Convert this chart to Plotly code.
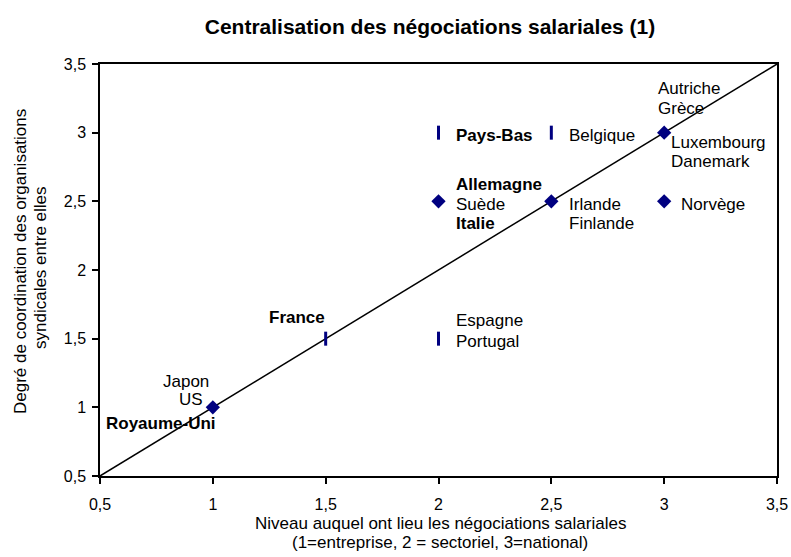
import plotly.graph_objects as go

# données : niveau de négociation (x) et coordination (y)
pays = ["Japon", "US", "Royaume-Uni", "France", "Espagne", "Portugal",
        "Pays-Bas", "Belgique", "Allemagne", "Suède", "Italie",
        "Irlande", "Finlande", "Norvège", "Autriche", "Grèce",
        "Luxembourg", "Danemark"]
niveau = [1, 1, 1, 1.5, 2, 2, 2, 2.5, 2, 2, 2, 2.5, 2.5, 3, 3, 3, 3, 3]
coordination = [1, 1, 1, 1.5, 1.5, 1.5, 3, 3, 2.5, 2.5, 2.5, 2.5, 2.5, 2.5, 3, 3, 3, 3]
gras = {"Royaume-Uni", "France", "Pays-Bas", "Allemagne", "Italie"}
barre = {"France", "Espagne", "Portugal", "Pays-Bas", "Belgique"}

axe = [0.5, 3.5]

# décalage des étiquettes (pixels) : xshift, yshift, ancrage
decal = {
    "Japon": (-27, 26, "center"), "US": (-22, 8, "center"),
    "Royaume-Uni": (-52, -16, "center"), "France": (-29, 21, "center"),
    "Espagne": (15, 18, "left"), "Portugal": (15, -3, "left"),
    "Pays-Bas": (15, -3, "left"), "Belgique": (16, -3, "left"),
    "Allemagne": (15, 17, "left"), "Suède": (15, -3, "left"),
    "Italie": (15, -22, "left"), "Irlande": (16, -3, "left"),
    "Finlande": (16, -22, "left"), "Norvège": (15, -3, "left"),
    "Autriche": (25, 44, "center"), "Grèce": (-8, 24, "left"),
    "Luxembourg": (5, -10, "left"), "Danemark": (5, -29, "left"),
}

POLICE = "Liberation Sans, Arial, sans-serif"
NAVY = "#000080"

fig = go.Figure()

fig.add_trace(go.Scatter(x=axe, y=axe, mode="lines",
                         line=dict(color="black", width=1.5),
                         hoverinfo="skip", showlegend=False))

# points : losanges ou barres verticales
pts_los = sorted({(x, y) for p, x, y in zip(pays, niveau, coordination) if p not in barre})
pts_bar = sorted({(x, y) for p, x, y in zip(pays, niveau, coordination) if p in barre})

fig.add_trace(go.Scatter(x=[p[0] for p in pts_los], y=[p[1] for p in pts_los],
                         mode="markers", showlegend=False,
                         marker=dict(symbol="diamond", size=11, color=NAVY)))
fig.add_trace(go.Scatter(x=[p[0] for p in pts_bar], y=[p[1] for p in pts_bar],
                         mode="markers", showlegend=False,
                         marker=dict(symbol="line-ns", size=10,
                                     line=dict(color=NAVY, width=3))))

for p, x, y in zip(pays, niveau, coordination):
    dx, dy, anc = decal[p]
    txt = "<b>%s</b>" % p if p in gras else p
    fig.add_annotation(x=x, y=y, xref="x", yref="y", text=txt, showarrow=False,
                       xshift=dx, yshift=dy, xanchor=anc, yanchor="middle",
                       font=dict(family=POLICE, size=17, color="black"))

# titres des axes (placés en pixels, zone de tracé 100..777 x 64..476)
def px_x(v):
    return (v - 100) / 677

def px_y(v):
    return (476 - v) / 412

fig.add_annotation(xref="paper", yref="paper", x=px_x(440), y=px_y(523),
                   text="Niveau auquel ont lieu les négociations salariales",
                   showarrow=False, xanchor="center", yanchor="middle",
                   font=dict(family=POLICE, size=17, color="black"))
fig.add_annotation(xref="paper", yref="paper", x=px_x(440), y=px_y(542),
                   text="(1=entreprise, 2 = sectoriel, 3=national)",
                   showarrow=False, xanchor="center", yanchor="middle",
                   font=dict(family=POLICE, size=17, color="black"))
fig.add_annotation(xref="paper", yref="paper", x=px_x(20), y=px_y(262),
                   text="Degré de coordination des organisations",
                   textangle=-90, showarrow=False, xanchor="center", yanchor="middle",
                   font=dict(family=POLICE, size=17, color="black"))
fig.add_annotation(xref="paper", yref="paper", x=px_x(40), y=px_y(268),
                   text="syndicales entre elles",
                   textangle=-90, showarrow=False, xanchor="center", yanchor="middle",
                   font=dict(family=POLICE, size=17, color="black"))

axe_style = dict(range=axe, dtick=0.5, tick0=0.5, showgrid=False, zeroline=False,
                 showline=True, linecolor="black", linewidth=1.5, mirror=True,
                 ticks="outside", ticklen=6, tickcolor="black", tickwidth=1.5,
                 ticklabeloverflow="allow",
                 tickfont=dict(family=POLICE, size=16, color="black"))

fig.update_layout(
    width=791, height=557,
    margin=dict(l=100, r=14, t=64, b=81, autoexpand=False),
    paper_bgcolor="white", plot_bgcolor="white",
    separators=", ",
    title=dict(text="<b>Centralisation des négociations salariales (1)</b>",
               x=430 / 791, xanchor="center", y=1 - 27 / 557, yanchor="middle",
               font=dict(family=POLICE, size=21, color="black")),
    xaxis=dict(axe_style, ticklabelstandoff=7), yaxis=dict(axe_style, ticklabelstandoff=3),
)

# marges du body à zéro pour que la figure occupe toute la fenêtre
fig.write_html("out.html", config={"displayModeBar": False},
               post_script="document.body.style.margin='0';")
